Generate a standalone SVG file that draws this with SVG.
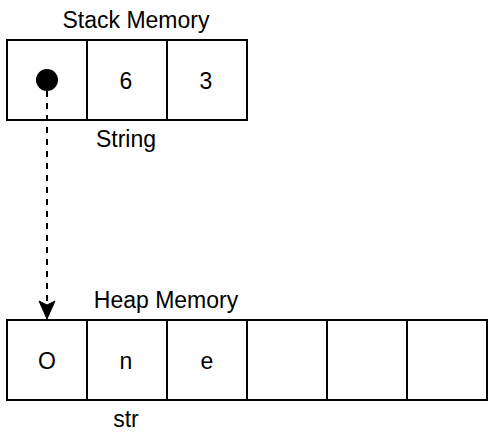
<svg xmlns="http://www.w3.org/2000/svg" width="500" height="438" viewBox="0 0 500 438">
<style>
.cell{fill:#fff;stroke:#000;stroke-width:2}
.t{font-family:"Liberation Sans",Arial,sans-serif;font-size:23px;fill:#000;text-anchor:middle}
</style>
<rect width="500" height="438" fill="#fff"/>
<g id="stack">
<text class="t" x="136" y="28">Stack Memory</text>
<rect class="cell" x="7" y="40" width="80" height="80"/>
<rect class="cell" x="87" y="40" width="80" height="80"/>
<rect class="cell" x="167" y="40" width="80" height="80"/>
<circle cx="47" cy="80" r="11" fill="#000"/>
<text class="t" x="126" y="89">6</text>
<text class="t" x="206" y="89">3</text>
<text class="t" x="126" y="147">String</text>
</g>
<g id="heap">
<text class="t" x="166" y="308">Heap Memory</text>
<rect class="cell" x="7" y="320" width="80" height="80"/>
<rect class="cell" x="87" y="320" width="80" height="80"/>
<rect class="cell" x="167" y="320" width="80" height="80"/>
<rect class="cell" x="247" y="320" width="80" height="80"/>
<rect class="cell" x="327" y="320" width="80" height="80"/>
<rect class="cell" x="407" y="320" width="80" height="80"/>
<text class="t" x="47" y="369">O</text>
<text class="t" x="126" y="369">n</text>
<text class="t" x="207" y="369">e</text>
<text class="t" x="126" y="427">str</text>
</g>
<g id="connectors">
<line x1="47" y1="91" x2="47" y2="306" stroke="#000" stroke-width="2" stroke-dasharray="6 6"/>
<path d="M47 319 L39 301 L47 305 L55 301 Z" fill="#000" stroke="#000" stroke-width="1"/>
</g>
</svg>
